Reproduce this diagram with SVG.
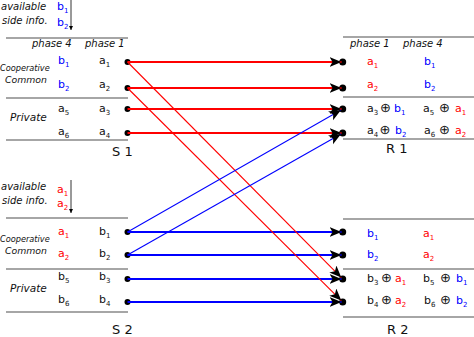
<svg xmlns="http://www.w3.org/2000/svg" width="474" height="337" viewBox="0 0 474 337">
<style>
text{font-family:"DejaVu Sans","Liberation Sans",sans-serif;fill:#111}
.it{font-style:italic;font-size:10px}
.v{font-size:11px}
.s{font-size:7px}
.o{font-size:13px}
.r{fill:#ff0000}
.b{fill:#0000ff}
.lbl{font-size:13px}
.sep{stroke:#888;stroke-width:1.3;fill:none}
.hr{stroke:#ff0000;stroke-width:1.8;fill:none}
.hb{stroke:#0000ff;stroke-width:1.8;fill:none}
.dr{stroke:#ff0000;stroke-width:1.1;fill:none}
.db{stroke:#0000ff;stroke-width:1.1;fill:none}
.dot{fill:#000}
</style>
<defs>
<marker id="ah" markerWidth="13" markerHeight="11" refX="12" refY="5" orient="auto" markerUnits="userSpaceOnUse"><path d="M0,0 L12,5 L0,10 L3,5 z" fill="#000"/></marker>
<marker id="sa" markerWidth="6" markerHeight="6" refX="4" refY="2" orient="auto" markerUnits="userSpaceOnUse"><path d="M0,0 L4,2 L0,4 z" fill="#000"/></marker>
</defs>

<g id="S1">
<text class="it" x="1" y="10">available</text>
<text class="it" x="2" y="24">side info.</text>
<text class="v b" x="57" y="10">b<tspan class="s" dy="3">1</tspan></text>
<text class="v b" x="57" y="26">b<tspan class="s" dy="3">2</tspan></text>
<line x1="71" y1="0" x2="71" y2="30" stroke="#000" stroke-width="0.8" marker-end="url(#sa)"/>
<line class="sep" x1="6" y1="38" x2="128" y2="38"/>
<text class="it" x="32" y="47">phase 4</text>
<text class="it" x="85" y="47">phase 1</text>
<text class="it" x="0" y="71" style="font-size:8.2px">Cooperative</text>
<text class="it" x="5" y="83" style="font-size:9.3px">Common</text>
<text class="v b" x="58" y="64">b<tspan class="s" dy="3">1</tspan></text>
<text class="v" x="99" y="64">a<tspan class="s" dy="3">1</tspan></text>
<text class="v b" x="58" y="88">b<tspan class="s" dy="3">2</tspan></text>
<text class="v" x="99" y="88">a<tspan class="s" dy="3">2</tspan></text>
<line class="sep" x1="6" y1="98" x2="128" y2="98"/>
<text class="it" x="10" y="121" style="font-size:10.5px">Private</text>
<text class="v" x="58" y="112">a<tspan class="s" dy="3">5</tspan></text>
<text class="v" x="99" y="112">a<tspan class="s" dy="3">3</tspan></text>
<text class="v" x="58" y="135">a<tspan class="s" dy="3">6</tspan></text>
<text class="v" x="99" y="135">a<tspan class="s" dy="3">4</tspan></text>
<line class="sep" x1="6" y1="140" x2="128" y2="140"/>
<text class="lbl" x="112" y="156">S 1</text>
<circle class="dot" cx="127.5" cy="62" r="3"/>
<circle class="dot" cx="127.5" cy="88" r="3"/>
<circle class="dot" cx="127.5" cy="109" r="3"/>
<circle class="dot" cx="127.5" cy="133" r="3"/>
</g>

<g id="S2">
<text class="it" x="1" y="190">available</text>
<text class="it" x="2" y="204">side info.</text>
<text class="v r" x="57" y="193">a<tspan class="s" dy="3">1</tspan></text>
<text class="v r" x="57" y="207">a<tspan class="s" dy="3">2</tspan></text>
<line x1="71" y1="180" x2="71" y2="213" stroke="#000" stroke-width="0.8" marker-end="url(#sa)"/>
<line class="sep" x1="6" y1="218" x2="128" y2="218"/>
<text class="it" x="0" y="242" style="font-size:8.2px">Cooperative</text>
<text class="it" x="5" y="254" style="font-size:9.3px">Common</text>
<text class="v r" x="58" y="235">a<tspan class="s" dy="3">1</tspan></text>
<text class="v" x="99" y="235">b<tspan class="s" dy="3">1</tspan></text>
<text class="v r" x="58" y="257">a<tspan class="s" dy="3">2</tspan></text>
<text class="v" x="99" y="257">b<tspan class="s" dy="3">2</tspan></text>
<line class="sep" x1="6" y1="269" x2="128" y2="269"/>
<text class="it" x="10" y="292" style="font-size:10.5px">Private</text>
<text class="v" x="58" y="280">b<tspan class="s" dy="3">5</tspan></text>
<text class="v" x="99" y="280">b<tspan class="s" dy="3">3</tspan></text>
<text class="v" x="58" y="303">b<tspan class="s" dy="3">6</tspan></text>
<text class="v" x="99" y="303">b<tspan class="s" dy="3">4</tspan></text>
<line class="sep" x1="6" y1="312" x2="128" y2="312"/>
<text class="lbl" x="112" y="334">S 2</text>
<circle class="dot" cx="127.5" cy="232" r="3"/>
<circle class="dot" cx="127.5" cy="255" r="3"/>
<circle class="dot" cx="127.5" cy="279" r="3"/>
<circle class="dot" cx="127.5" cy="302" r="3"/>
</g>

<g id="R1">
<line class="sep" x1="343" y1="37" x2="474" y2="37"/>
<text class="it" x="350" y="47">phase 1</text>
<text class="it" x="403" y="47">phase 4</text>
<text class="v r" x="367" y="65">a<tspan class="s" dy="3">1</tspan></text>
<text class="v b" x="424" y="65">b<tspan class="s" dy="3">1</tspan></text>
<text class="v r" x="367" y="88">a<tspan class="s" dy="3">2</tspan></text>
<text class="v b" x="424" y="88">b<tspan class="s" dy="3">2</tspan></text>
<line class="sep" x1="343" y1="97" x2="474" y2="97"/>
<text class="v" x="367" y="112">a<tspan class="s" dy="3">3</tspan><tspan class="o" x="380" dy="-3">⊕</tspan><tspan class="b" x="394">b</tspan><tspan class="s b" dy="3">1</tspan></text>
<text class="v" x="423" y="112">a<tspan class="s" dy="3">5</tspan><tspan class="o" x="439" dy="-3">⊕</tspan><tspan class="r" x="455">a</tspan><tspan class="s r" dy="3">1</tspan></text>
<text class="v" x="367" y="134">a<tspan class="s" dy="3">4</tspan><tspan class="o" x="379.5" dy="-3">⊕</tspan><tspan class="b" x="395">b</tspan><tspan class="s b" dy="3">2</tspan></text>
<text class="v" x="424" y="134">a<tspan class="s" dy="3">6</tspan><tspan class="o" x="439" dy="-3">⊕</tspan><tspan class="r" x="455">a</tspan><tspan class="s r" dy="3">2</tspan></text>
<line class="sep" x1="343" y1="139" x2="474" y2="139"/>
<text class="lbl" x="386" y="153">R 1</text>
<circle class="dot" cx="342.7" cy="62" r="3.5"/>
<circle class="dot" cx="342.7" cy="88" r="3.5"/>
<circle class="dot" cx="342.7" cy="109" r="3.5"/>
<circle class="dot" cx="342.7" cy="133" r="3.5"/>
</g>

<g id="R2">
<line class="sep" x1="343" y1="219" x2="474" y2="219"/>
<text class="v b" x="367" y="237">b<tspan class="s" dy="3">1</tspan></text>
<text class="v r" x="423" y="237">a<tspan class="s" dy="3">1</tspan></text>
<text class="v b" x="367" y="258">b<tspan class="s" dy="3">2</tspan></text>
<text class="v r" x="423" y="258">a<tspan class="s" dy="3">2</tspan></text>
<line class="sep" x1="343" y1="269" x2="474" y2="269"/>
<text class="v" x="367" y="282">b<tspan class="s" dy="3">3</tspan><tspan class="o" x="381" dy="-3">⊕</tspan><tspan class="r" x="395">a</tspan><tspan class="s r" dy="3">1</tspan></text>
<text class="v" x="423" y="282">b<tspan class="s" dy="3">5</tspan><tspan class="o" x="440" dy="-3">⊕</tspan><tspan class="b" x="456">b</tspan><tspan class="s b" dy="3">1</tspan></text>
<text class="v" x="367" y="304">b<tspan class="s" dy="3">4</tspan><tspan class="o" x="381" dy="-3">⊕</tspan><tspan class="r" x="395">a</tspan><tspan class="s r" dy="3">2</tspan></text>
<text class="v" x="424" y="304">b<tspan class="s" dy="3">6</tspan><tspan class="o" x="440" dy="-3">⊕</tspan><tspan class="b" x="456">b</tspan><tspan class="s b" dy="3">2</tspan></text>
<line class="sep" x1="343" y1="317" x2="474" y2="317"/>
<text class="lbl" x="387" y="334">R 2</text>
<circle class="dot" cx="342.7" cy="232" r="3.5"/>
<circle class="dot" cx="342.7" cy="255" r="3.5"/>
<circle class="dot" cx="342.7" cy="279" r="3.5"/>
<circle class="dot" cx="342.7" cy="302" r="3.5"/>
</g>

<g id="connectors">
<line class="hr" x1="127.5" y1="62" x2="341.5" y2="62" marker-end="url(#ah)"/>
<line class="hr" x1="127.5" y1="88" x2="341.5" y2="88" marker-end="url(#ah)"/>
<line class="hr" x1="127.5" y1="109" x2="341.5" y2="109" marker-end="url(#ah)"/>
<line class="hr" x1="127.5" y1="133" x2="341.5" y2="133" marker-end="url(#ah)"/>
<line class="hb" x1="127.5" y1="232" x2="341.5" y2="232" marker-end="url(#ah)"/>
<line class="hb" x1="127.5" y1="255" x2="341.5" y2="255" marker-end="url(#ah)"/>
<line class="hb" x1="127.5" y1="279" x2="341.5" y2="279" marker-end="url(#ah)"/>
<line class="hb" x1="127.5" y1="302" x2="341.5" y2="302" marker-end="url(#ah)"/>
<line class="dr" x1="127.5" y1="62" x2="341.3" y2="277.6" marker-end="url(#ah)"/>
<line class="dr" x1="127.5" y1="88" x2="341.3" y2="300.6" marker-end="url(#ah)"/>
<line class="db" x1="127.5" y1="232" x2="341.0" y2="110.0" marker-end="url(#ah)"/>
<line class="db" x1="127.5" y1="255" x2="341.0" y2="134.0" marker-end="url(#ah)"/>
</g>
</svg>
